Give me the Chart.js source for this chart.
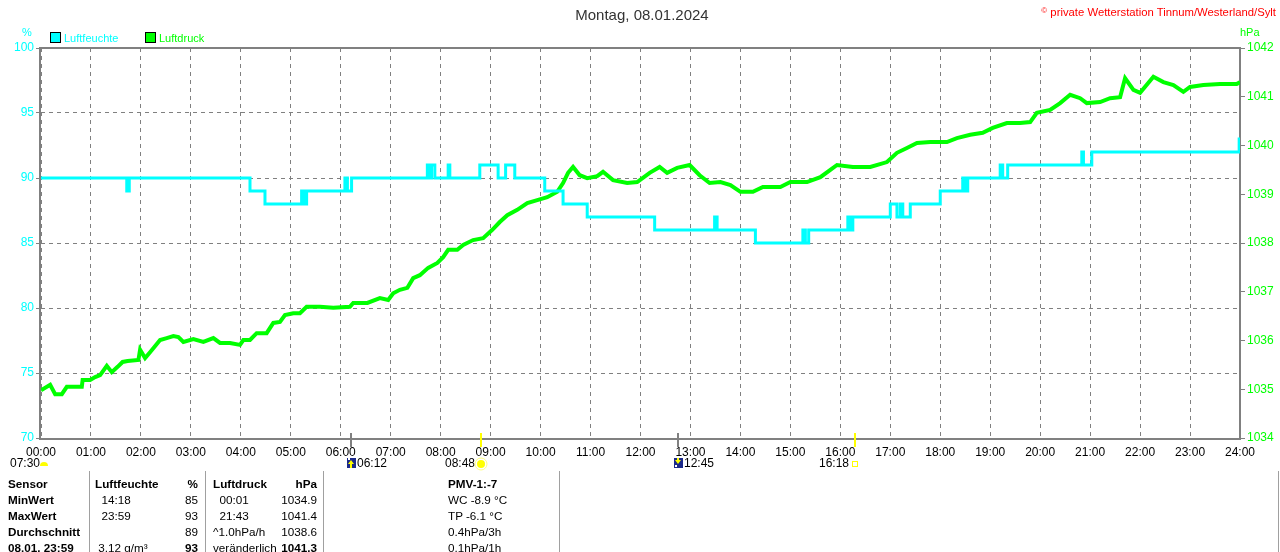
<!DOCTYPE html>
<html>
<head>
<meta charset="utf-8">
<title>Montag, 08.01.2024</title>
<script src="https://cdn.jsdelivr.net/npm/chart.js@4/dist/chart.umd.min.js"></script>
<style>
  body { margin: 0; background: #fff; }
  #wrap { position: relative; width: 1280px; height: 552px; overflow: hidden;
          font-family: 'Liberation Sans', Arial, sans-serif; }
  #c { position: absolute; left: 0; top: 0; }
  .t { position: absolute; font-size: 11.7px; line-height: 14px; white-space: nowrap; color: #000; }
  .b { font-weight: bold; }
  .r { text-align: right; width: 120px; }
  .vl { position: absolute; top: 471px; height: 81px; width: 1px; background: #a0a0a0; }
</style>
</head>
<body>
<div id="wrap">
  <canvas id="c" width="1280" height="552"></canvas>

  <div class="t" style="left:0;width:1284px;text-align:center;top:6px;font-size:15px;line-height:18px;color:#333">Montag, 08.01.2024</div>
  <div class="t" style="right:4px;top:4px;font-size:11.3px;color:#ff0000"><span style="font-size:8px;vertical-align:3px">©</span> private Wetterstation Tinnum/Westerland/Sylt</div>

  <div class="t" style="left:22px;top:25px;font-size:11px;color:#00ffff">%</div>
  <div class="t" style="left:1240px;top:25px;font-size:11px;color:#00ff00">hPa</div>

  <div style="position:absolute;left:50px;top:32px;width:9px;height:9px;border:1px solid #000;background:#00ffff"></div>
  <div class="t" style="left:64px;top:31px;font-size:11px;color:#00ffff">Luftfeuchte</div>
  <div style="position:absolute;left:145px;top:32px;width:9px;height:9px;border:1px solid #000;background:#00ff00"></div>
  <div class="t" style="left:159px;top:31px;font-size:11px;color:#00ff00">Luftdruck</div>

  <div class="t" style="left:10px;top:456px;font-size:12px">07:30</div>

  <div class="vl" style="left:89px"></div>
  <div class="vl" style="left:205px"></div>
  <div class="vl" style="left:323px"></div>
  <div class="vl" style="left:559px"></div>
  <div class="vl" style="left:1278px"></div>

  <div id="table"></div>
</div>

<script>
// Tageswerte 08.01.2024, Minuten seit Mitternacht
const humMinutes = [0, 103, 106, 251, 269, 313, 316, 319, 365, 368, 373, 464, 467, 469, 473,
  489, 491, 527, 549, 558, 569, 605, 627, 656, 737, 809, 812, 858, 915, 918, 922, 969, 972, 975,
  1020, 1028, 1032, 1035, 1044, 1080, 1107, 1110, 1113, 1152, 1155, 1161, 1250, 1252, 1262, 1439, 1440];
const humValues = [90, 89, 90, 89, 88, 89, 88, 89, 90, 89, 90, 91, 90, 91, 90,
  91, 90, 91, 90, 91, 90, 89, 88, 87, 86, 87, 86, 85, 86, 85, 86, 87, 86, 87,
  88, 87, 88, 87, 88, 89, 90, 89, 90, 91, 90, 91, 92, 91, 92, 93, 93];

const presMinutes = [
  0, 11, 17, 25, 31, 49, 50, 59, 65, 71, 79, 85, 92, 98, 104, 117, 119, 125, 131, 143,
  151, 159, 165, 171, 183, 195, 207, 215, 227, 239, 243, 251, 259, 271, 279, 287, 293, 303, 311, 319,
  335, 351,
  371, 375, 392, 407, 417, 423, 431, 440, 447, 455, 465, 476, 483, 489, 500, 507, 519, 531, 542, 551,
  560, 572, 584, 596, 608, 620, 627, 633, 639, 647, 656, 668,
  675, 687, 704, 716, 731, 743, 752, 764, 779, 791, 803, 816, 828, 840, 855, 867, 888, 900, 920, 936,
  948, 956, 975, 996, 1016, 1028, 1040, 1052, 1068, 1088, 1100, 1116, 1131, 1143, 1160, 1176, 1188, 1196, 1212, 1224,
  1236, 1248, 1256, 1272, 1284, 1296, 1302, 1312, 1320, 1336, 1348, 1360, 1372, 1380, 1396, 1416, 1436, 1440];
const presValues = [
  1034.98, 1035.09, 1034.90, 1034.90, 1035.05, 1035.05, 1035.19, 1035.19, 1035.25, 1035.29,
  1035.48, 1035.35, 1035.46, 1035.56, 1035.58, 1035.60, 1035.81, 1035.64, 1035.76, 1036.01,
  1036.05, 1036.09, 1036.07, 1035.97, 1036.03, 1035.97, 1036.05, 1035.95, 1035.95, 1035.91,
  1036.01, 1036.01, 1036.15, 1036.15, 1036.36, 1036.38, 1036.52, 1036.56, 1036.56, 1036.69,
  1036.69, 1036.67,
  1036.69, 1036.77, 1036.77, 1036.87, 1036.83, 1036.97, 1037.04, 1037.08, 1037.28, 1037.34,
  1037.49, 1037.59, 1037.71, 1037.86, 1037.86, 1037.96, 1038.06, 1038.10, 1038.27, 1038.43,
  1038.57, 1038.68, 1038.82, 1038.88, 1038.94, 1039.05, 1039.23, 1039.44, 1039.56, 1039.39,
  1039.33, 1039.37,
  1039.46, 1039.29, 1039.23, 1039.25, 1039.44, 1039.56, 1039.44, 1039.54, 1039.60, 1039.39,
  1039.23, 1039.25, 1039.19, 1039.05, 1039.05, 1039.15, 1039.15, 1039.25, 1039.25, 1039.35,
  1039.50, 1039.60, 1039.56, 1039.56, 1039.66, 1039.85, 1039.95, 1040.05, 1040.07, 1040.07,
  1040.15, 1040.22, 1040.26, 1040.36, 1040.46, 1040.46, 1040.48, 1040.67, 1040.73, 1040.87,
  1041.04, 1040.97, 1040.87, 1040.89, 1040.97, 1040.99, 1041.38, 1041.14, 1041.08, 1041.41,
  1041.30, 1041.24, 1041.10, 1041.20, 1041.24, 1041.26, 1041.26, 1041.30];

// Mond- / Sonnenauf- und -untergang
const eventTimes = ['06:12', '08:48', '12:45', '16:18'];
const eventKinds = ['moonrise', 'sunrise', 'moonset', 'sunset'];

// Tabelle unter dem Diagramm
const tableRows = [
  ['Sensor', 'Luftfeuchte', '%', 'Luftdruck', 'hPa', 'PMV-1:-7'],
  ['MinWert', '  14:18', '85', '  00:01', '1034.9', 'WC -8.9 °C'],
  ['MaxWert', '  23:59', '93', '  21:43', '1041.4', 'TP -6.1 °C'],
  ['Durchschnitt', '', '89', '^1.0hPa/h', '1038.6', '0.4hPa/3h'],
  ['08.01. 23:59', ' 3.12 g/m³', '93', 'veränderlich', '1041.3', '0.1hPa/1h']
];

function toMin(s) { const p = s.split(':'); return +p[0] * 60 + +p[1]; }
function fmt(m) { const h = Math.floor(m / 60); return (h < 10 ? '0' : '') + h + ':00'; }

// Tabelle bauen
const colX = [8, 95, 198, 213, 317, 448];
const colRight = [false, false, true, false, true, false];
const tbl = document.getElementById('table');
tableRows.forEach(function (row, r) {
  row.forEach(function (txt, c) {
    const d = document.createElement('div');
    d.className = 't';
    d.style.whiteSpace = 'pre';
    d.style.top = (477 + r * 16) + 'px';
    if (colRight[c]) { d.className += ' r'; d.style.left = (colX[c] - 120) + 'px'; }
    else d.style.left = colX[c] + 'px';
    if (r === 0 || c === 0 || (r === 4 && (c === 2 || c === 4))) d.className += ' b';
    d.textContent = txt;
    tbl.appendChild(d);
  });
});

const font = { family: "'Liberation Sans', Arial, sans-serif", size: 11 };

const framePlugin = {
  id: 'frame',
  beforeDatasetsDraw(chart) {
    const a = chart.chartArea, ctx = chart.ctx;
    ctx.save();
    ctx.strokeStyle = '#808080';
    ctx.lineWidth = 2;
    ctx.strokeRect(a.left - 1, a.top, a.right - a.left + 1, a.bottom - a.top + 1);
    ctx.restore();
  },
  afterDraw(chart) {
    const ctx = chart.ctx, xs = chart.scales.x, yb = chart.chartArea.bottom;
    ctx.save();
    ctx.font = "12px 'Liberation Sans', Arial, sans-serif";
    ctx.textBaseline = 'middle';
    // Dämmerung links
    ctx.fillStyle = '#ffff00';
    ctx.beginPath(); ctx.arc(44, 466, 4, Math.PI, 0); ctx.fill();
    eventTimes.forEach(function (t, i) {
      const x = Math.round(xs.getPixelForValue(toMin(t)));
      const kind = eventKinds[i];
      const moon = kind.indexOf('moon') === 0;
      ctx.strokeStyle = moon ? '#808080' : '#ffff00';
      ctx.lineWidth = 2;
      ctx.beginPath(); ctx.moveTo(x, yb - 5); ctx.lineTo(x, yb + 9); ctx.stroke();
      ctx.fillStyle = '#000';
      if (moon) {
        ctx.fillStyle = '#1c2a8a';
        ctx.fillRect(x - 4, 458, 9, 10);
        ctx.fillStyle = '#ffff00';
        ctx.beginPath();
        if (kind === 'moonrise') { ctx.moveTo(x, 460); ctx.lineTo(x + 3, 464); ctx.lineTo(x - 3, 464); }
        else { ctx.moveTo(x - 3, 460); ctx.lineTo(x + 3, 460); ctx.lineTo(x, 464); }
        ctx.fill();
        ctx.fillRect(x - 1, kind === 'moonrise' ? 464 : 458, 2, 4);
        ctx.fillStyle = '#fff';
        ctx.fillRect(x - 3, kind === 'moonrise' ? 458 : 465, 2, 2);
        ctx.fillStyle = '#000';
        ctx.textAlign = 'left';
        ctx.fillText(t, x + 6, 464);
      } else {
        ctx.textAlign = 'right';
        ctx.fillText(t, x - 6, 464);
        if (kind === 'sunrise') {
          ctx.fillStyle = '#ffff00';
          ctx.beginPath(); ctx.arc(x, 464, 4, 0, Math.PI * 2); ctx.fill();
          ctx.strokeStyle = '#ffff80'; ctx.lineWidth = 1;
          ctx.beginPath(); ctx.arc(x, 464, 6, 0, Math.PI * 2); ctx.stroke();
        } else {
          ctx.strokeStyle = '#ffff00'; ctx.lineWidth = 1;
          ctx.strokeRect(x - 2.5, 461.5, 5, 5);
        }
      }
    });
    ctx.restore();
  }
};

new Chart(document.getElementById('c'), {
  type: 'line',
  data: {
    datasets: [{
      label: 'Luftfeuchte',
      data: humMinutes.map(function (m, i) { return { x: m, y: humValues[i] }; }),
      borderColor: '#00ffff',
      borderWidth: 3,
      pointRadius: 0,
      stepped: true,
      yAxisID: 'y',
      order: 0
    }, {
      label: 'Luftdruck',
      data: presMinutes.map(function (m, i) { return { x: m, y: presValues[i] }; }),
      borderColor: '#00ff00',
      borderWidth: 4,
      pointRadius: 0,
      tension: 0,
      borderJoinStyle: 'miter',
      yAxisID: 'y1',
      order: 1
    }]
  },
  options: {
    responsive: false,
    animation: false,
    devicePixelRatio: 1,
    layout: { padding: { top: 48, left: 0, right: 0, bottom: 0 } },
    plugins: { legend: { display: false }, tooltip: { enabled: false } },
    scales: {
      x: {
        type: 'linear',
        min: 0, max: 1440,
        afterFit: function (s) { s.height = 114; },
        afterBuildTicks: function (s) {
          s.ticks = [];
          for (let m = 0; m <= 1440; m += 60) s.ticks.push({ value: m });
        },
        ticks: { color: '#000', font: { family: font.family, size: 12 }, padding: 7, maxRotation: 0, autoSkip: false,
                 callback: function (v) { return fmt(v); } },
        grid: { color: '#808080', drawTicks: false, lineWidth: 1 },
        border: { display: false, dash: [4, 4] }
      },
      y: {
        position: 'left',
        min: 70, max: 100,
        afterFit: function (s) { s.width = 41; },
        ticks: { stepSize: 5, color: '#00ffff', font: { family: font.family, size: 12 }, padding: 2,
                 callback: function (v) { return String(v); } },
        grid: { color: '#808080', tickLength: 5, tickBorderDash: [], lineWidth: 1 },
        border: { display: false, dash: [4, 4] }
      },
      y1: {
        position: 'right',
        min: 1034, max: 1042,
        afterFit: function (s) { s.width = 40; },
        ticks: { stepSize: 1, color: '#00ff00', font: { family: font.family, size: 12 }, padding: 2,
                 callback: function (v) { return String(v); } },
        grid: { drawOnChartArea: false, color: '#808080', tickLength: 5 },
        border: { display: false }
      }
    }
  },
  plugins: [framePlugin]
});
</script>
</body>
</html>
